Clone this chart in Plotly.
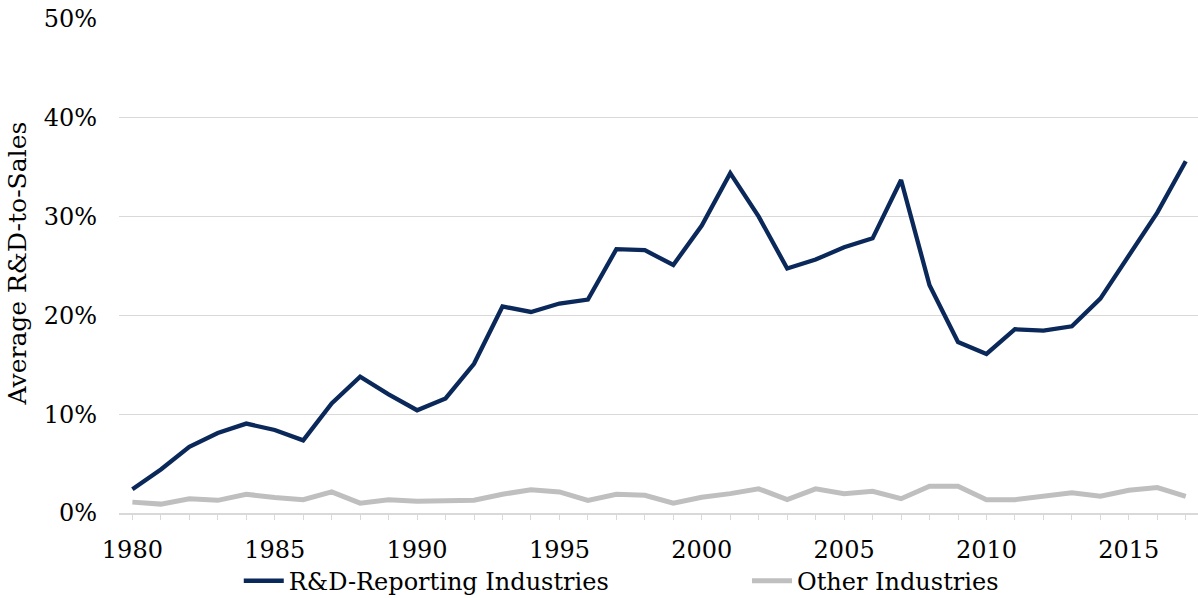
import plotly.graph_objects as go

# Average R&D-to-sales ratio by year (percent)
years = list(range(1980, 2018))
rd_reporting = [2.4, 4.4, 6.7, 8.1, 9.05, 8.4, 7.35, 11.1, 13.8, 12.0,
                10.4, 11.6, 15.1, 20.9, 20.35, 21.2, 21.6, 26.7, 26.6, 25.1,
                29.1, 34.4, 30.0, 24.75, 25.65, 26.9, 27.8, 33.7, 23.05, 17.3,
                16.1, 18.6, 18.45, 18.9, 21.7, 26.1, 30.4, 35.6]
other = [1.1, 0.9, 1.45, 1.28, 1.9, 1.56, 1.35, 2.13, 1.0, 1.35,
         1.2, 1.2, 1.3, 1.9, 2.35, 2.13, 1.28, 1.9, 1.8, 1.0,
         1.6, 1.96, 2.45, 1.35, 2.45, 1.96, 2.2, 1.45, 2.7, 2.7,
         1.35, 1.35, 1.69, 2.06, 1.69, 2.3, 2.57, 1.69]

series_names = ["R&D-Reporting Industries", "Other Industries"]
y_ticks = [0, 10, 20, 30, 40, 50]
x_label_years = [y for y in years if y % 5 == 0]
x_tick_labels = [str(y) for y in x_label_years]

NAVY = "#0A2859"
GRAY = "#BFBFBF"
GRID = "#D9D9D9"
FONT = "DejaVu Serif"

fig = go.Figure()
fig.add_trace(go.Scatter(
    x=years, y=[v / 100 for v in rd_reporting], mode="lines",
    name=series_names[0], line=dict(color=NAVY, width=4.3),
    legend="legend"))
fig.add_trace(go.Scatter(
    x=years, y=[v / 100 for v in other], mode="lines",
    name=series_names[1], line=dict(color=GRAY, width=5),
    legend="legend2"))

legend_y = -0.138
fig.update_layout(
    width=1198, height=598,
    margin=dict(l=119, r=0, t=19, b=85, autoexpand=False),
    paper_bgcolor="white", plot_bgcolor="white",
    font=dict(family=FONT, size=24, color="#000000"),
    showlegend=True,
    legend=dict(orientation="h", x=0.111, xanchor="left", y=legend_y, yanchor="middle",
                itemwidth=40, bgcolor="rgba(0,0,0,0)", borderwidth=0,
                font=dict(family=FONT, size=24, color="#000000")),
    legend2=dict(orientation="h", x=0.582, xanchor="left", y=legend_y, yanchor="middle",
                 itemwidth=40, bgcolor="rgba(0,0,0,0)", borderwidth=0,
                 font=dict(family=FONT, size=24, color="#000000")),
    xaxis=dict(
        range=[1979.53, 2017.43],
        # labelled years: invisible long ticks set the label offset
        tickvals=x_label_years, ticktext=x_tick_labels,
        ticks="outside", ticklen=14, tickwidth=1, tickcolor="rgba(0,0,0,0)",
        # every year gets a short visible tick
        minor=dict(tickvals=years, ticks="outside", ticklen=5, tickwidth=1,
                   tickcolor=GRID, showgrid=False),
        showline=True, linecolor=GRID, linewidth=1.5,
        showgrid=False, zeroline=False,
        tickfont=dict(family=FONT, size=24, color="#000000"),
    ),
    yaxis=dict(
        range=[0, 0.5],
        tickvals=[v / 100 for v in y_ticks],
        ticktext=[f"{v}%" for v in y_ticks],
        showgrid=True, gridcolor=GRID, gridwidth=1.2,
        zeroline=False, showline=False, ticks="",
        ticklabelstandoff=21,
        tickfont=dict(family=FONT, size=24, color="#000000"),
    ),
    annotations=[dict(
        text="Average R&D-to-Sales", textangle=-90,
        xref="paper", yref="paper", x=(18 - 119) / 1079, y=0.505,
        xanchor="center", yanchor="middle", showarrow=False,
        font=dict(family=FONT, size=25, color="#000000"))],
)

fig.write_html("out.html")
